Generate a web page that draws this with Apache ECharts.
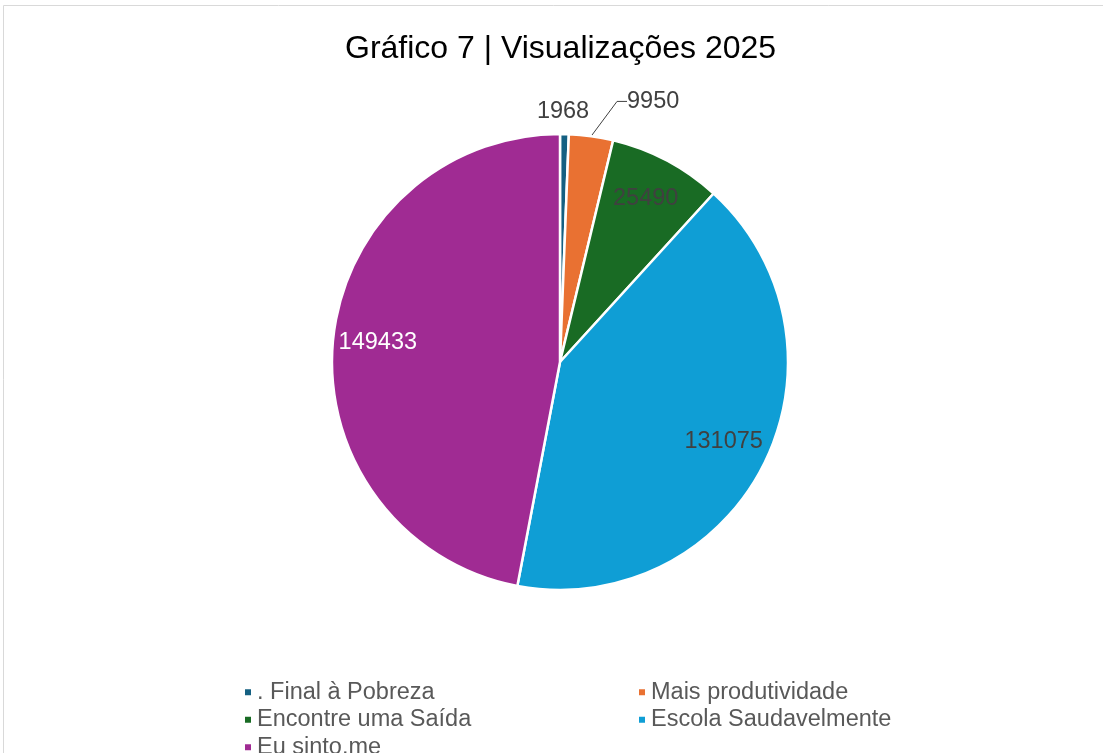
<!DOCTYPE html>
<html>
<head>
<meta charset="utf-8">
<script src="https://cdn.jsdelivr.net/npm/echarts@6/dist/echarts.min.js"></script>
<style>
  html, body { margin: 0; padding: 0; background: #fff; }
  #main { width: 1103px; height: 753px; }
</style>
</head>
<body>
<div id="main"></div>
<script>
// dados do gráfico
const categories = [". Final à Pobreza", "Mais produtividade", "Encontre uma Saída", "Escola Saudavelmente", "Eu sinto.me"];
const views = [1968, 9950, 25490, 131075, 149433];
const colors = ["#156082", "#E97132", "#196B24", "#0F9ED5", "#A02B93"];
// quais rótulos ficam fora da fatia
const outsideLabel = [true, true, false, false, false];
const labelColors = ["#404040", "#404040", "#404040", "#404040", "#ffffff"];

const chart = echarts.init(document.getElementById("main"));

const mainData = categories.map((name, i) => ({
  name: name,
  value: views[i],
  itemStyle: { color: colors[i] },
  label: {
    show: outsideLabel[i],
    offset: i === 0 ? [-33, 0] : [0, 0]
  },
  labelLine: {
    show: i === 1,
    length: i === 0 ? 23 : 28,
    length2: i === 0 ? 0 : 10
  }
}));

// série transparente só para posicionar os rótulos internos
const labelData = categories.map((name, i) => ({
  name: name,
  value: views[i],
  label: { show: !outsideLabel[i], color: labelColors[i] }
}));

const legendText = { fontFamily: "Liberation Sans", fontSize: 23.5, lineHeight: 24.5, color: "#595959" };

const option = {
  title: {
    text: "Gráfico 7 | Visualizações 2025",
    left: 340,
    top: 28,
    textStyle: {
      fontFamily: "Liberation Sans",
      fontSize: 32,
      fontWeight: "normal",
      color: "#000"
    }
  },
  graphic: [
    {
      type: "rect",
      shape: { x: 3.5, y: 5.5, width: 1110, height: 760 },
      style: { fill: "none", stroke: "#d9d9d9", lineWidth: 1 },
      silent: true
    }
  ],
  legend: [
    {
      data: [categories[0], categories[2], categories[4]],
      orient: "vertical",
      left: 243,
      top: 680,
      height: 100,
      padding: 0,
      itemWidth: 8,
      itemHeight: 8,
      itemGap: 3,
      icon: "rect",
      textStyle: legendText
    },
    {
      data: [categories[1], categories[3]],
      orient: "vertical",
      left: 637,
      top: 680,
      height: 100,
      padding: 0,
      itemWidth: 8,
      itemHeight: 8,
      itemGap: 3,
      icon: "rect",
      textStyle: legendText
    }
  ],
  series: [
    {
      name: "Visualizações",
      type: "pie",
      center: [560, 362],
      radius: 228,
      startAngle: 90,
      clockwise: true,
      animation: false,
      avoidLabelOverlap: false,
      itemStyle: { borderColor: "#fff", borderWidth: 2.5 },
      label: {
        position: "outside",
        formatter: "{c}",
        fontFamily: "Liberation Sans",
        fontSize: 23.5,
        color: "#404040"
      },
      labelLine: {
        lineStyle: { color: "#404040", width: 1 }
      },
      // desloca o rótulo 9950 para a direita, a linha acompanha
      labelLayout: function (p) {
        if (p.dataIndex === 1) {
          return {
            x: p.labelRect.x + 17,
            y: p.labelRect.y + p.labelRect.height / 2 - 7
          };
        }
        return {};
      },
      data: mainData
    },
    {
      name: "rotulos",
      type: "pie",
      center: [560, 360],
      radius: [154, 206],
      startAngle: 90,
      clockwise: true,
      animation: false,
      silent: true,
      avoidLabelOverlap: false,
      itemStyle: { color: "rgba(0,0,0,0)" },
      label: {
        position: "inside",
        formatter: "{c}",
        fontFamily: "Liberation Sans",
        fontSize: 23.5
      },
      labelLine: { show: false },
      data: labelData
    }
  ]
};

chart.setOption(option);
</script>
</body>
</html>
